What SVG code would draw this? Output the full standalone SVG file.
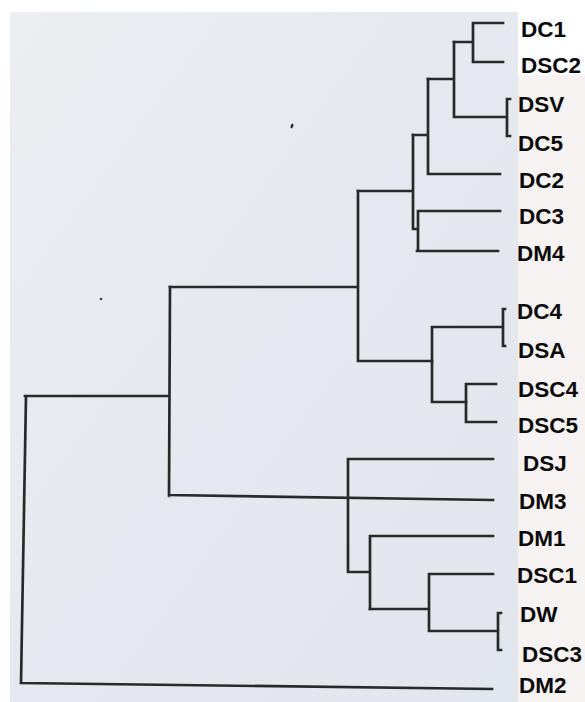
<svg xmlns="http://www.w3.org/2000/svg" width="585" height="702" viewBox="0 0 585 702">
<defs>
<linearGradient id="scan" x1="0" y1="0" x2="1" y2="1">
<stop offset="0" stop-color="#eceef2"/>
<stop offset="0.5" stop-color="#e5e8ee"/>
<stop offset="1" stop-color="#e2e6ed"/>
</linearGradient>
<style>
.ln{fill:none;stroke:#262b2a;stroke-width:2.7;stroke-linecap:square;stroke-linejoin:miter}
.lb{font-family:"Liberation Sans",Arial,sans-serif;font-weight:bold;font-size:22.5px;fill:#0a0a0a}
</style>
</defs>
<rect width="585" height="702" fill="#ffffff"/>
<rect x="10" y="12" width="508" height="690" fill="url(#scan)"/>
<rect x="518" y="75" width="67" height="627" fill="#f6f2f1"/>
<ellipse cx="292" cy="126" rx="1.2" ry="2.5" fill="#222" transform="rotate(20 292 126)"/>
<ellipse cx="101" cy="299" rx="1.3" ry="1.3" fill="#444"/>
<g id="connectors" class="ln">
<path d="M473,23H503M473,62H503M473,23V62M454,42H473"/>
<path d="M510,99H507V136H510M454,117H507M454,42V117M428,79H454"/>
<path d="M428,174H500M428,79V174M413,135H428"/>
<path d="M418,211H500M417,251H498M418,211V251M413,229H418M413,135V229M358,191H413"/>
<path d="M358,191V361M170,287H358M358,361H432"/>
<path d="M505,309H503V346H505M432,327H503M432,327V402M432,402H466"/>
<path d="M466,384V422M466,384H496M466,422H496"/>
<path d="M170,287L169,496M169,495L493,500M25,396H169M26,396L21,683M21,683L492,689"/>
<path d="M348,459H493M348,459V572M348,572H370M370,536V609M370,536H493"/>
<path d="M370,609H429M429,574V631M429,574H493M429,631H498M501,613H498V650H501"/>
</g>
<g id="DC1"><text class="lb" x="521" y="37">DC1</text></g>
<g id="DSC2"><text class="lb" x="521" y="73">DSC2</text></g>
<g id="DSV"><text class="lb" x="518" y="112">DSV</text></g>
<g id="DC5"><text class="lb" x="518" y="151">DC5</text></g>
<g id="DC2"><text class="lb" x="519" y="188">DC2</text></g>
<g id="DC3"><text class="lb" x="519" y="224">DC3</text></g>
<g id="DM4"><text class="lb" x="517" y="261">DM4</text></g>
<g id="DC4"><text class="lb" x="517" y="319">DC4</text></g>
<g id="DSA"><text class="lb" x="518" y="358">DSA</text></g>
<g id="DSC4"><text class="lb" x="518" y="397">DSC4</text></g>
<g id="DSC5"><text class="lb" x="518" y="433">DSC5</text></g>
<g id="DSJ"><text class="lb" x="523" y="471">DSJ</text></g>
<g id="DM3"><text class="lb" x="519" y="509">DM3</text></g>
<g id="DM1"><text class="lb" x="518" y="546">DM1</text></g>
<g id="DSC1"><text class="lb" x="517" y="583">DSC1</text></g>
<g id="DW"><text class="lb" x="520" y="622">DW</text></g>
<g id="DSC3"><text class="lb" x="522" y="662">DSC3</text></g>
<g id="DM2"><text class="lb" x="519" y="693">DM2</text></g>
</svg>
